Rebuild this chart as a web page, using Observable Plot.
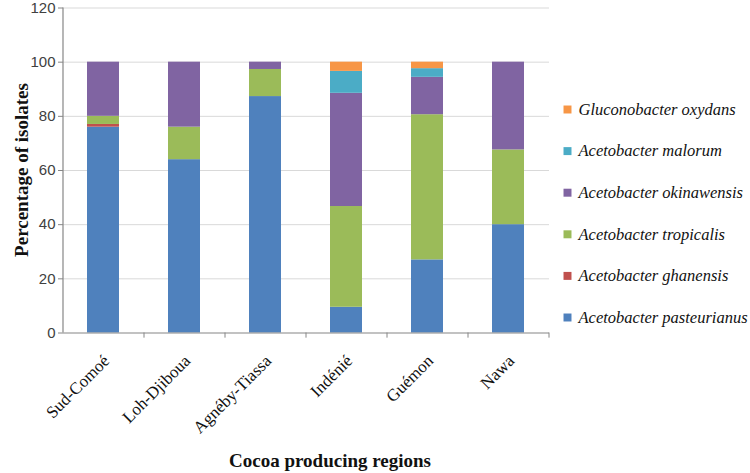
<!DOCTYPE html>
<html>
<head>
<meta charset="utf-8">
<script src="https://cdn.jsdelivr.net/npm/d3@7"></script>
<script src="https://cdn.jsdelivr.net/npm/@observablehq/plot@0.6"></script>
<style>
  html, body { margin: 0; padding: 0; background: #fff; }
  #wrap { position: relative; width: 750px; height: 473px; overflow: hidden; }
</style>
</head>
<body>
<div id="wrap"></div>
<script>
const regions = ["Sud-Comoé", "Loh-Djiboua", "Agnéby-Tiassa", "Indénié", "Guémon", "Nawa"];
const species = ["Acetobacter pasteurianus", "Acetobacter ghanensis", "Acetobacter tropicalis", "Acetobacter okinawensis", "Acetobacter malorum", "Gluconobacter oxydans"];
const colors = ["#4F81BD", "#C0504D", "#9BBB59", "#8064A2", "#4BACC6", "#F79646"];
const pasteurianus = [76, 64, 87.3, 9.5, 27, 40];
const ghanensis    = [1, 0, 0, 0, 0, 0];
const tropicalis   = [3, 12, 10, 37.2, 53.6, 27.6];
const okinawensis  = [20, 24, 2.7, 41.8, 13.8, 32.4];
const malorum      = [0, 0, 0, 8.1, 3.2, 0];
const oxydans      = [0, 0, 0, 3.4, 2.4, 0];
const yTicks = [0, 20, 40, 60, 80, 100, 120];

const seriesValues = [pasteurianus, ghanensis, tropicalis, okinawensis, malorum, oxydans];
const data = [];
species.forEach((s, si) => regions.forEach((r, ri) => data.push({region: r, species: s, value: seriesValues[si][ri]})));

const W = 750, H = 473, mL = 63, mR = 201, mT = 7.5, mB = 140.5;
const step = (W - mL - mR) / regions.length;
const serif = "Liberation Serif";

// legend rows, top to bottom
const legendOrder = species.slice().reverse();
const legendMarks = legendOrder.flatMap((s, i) => [
  Plot.dot([s], {frameAnchor: "top-right", dx: 18, dy: 101.5 + i * 41.6, symbol: "square", r: 4.5,
    fill: colors[species.indexOf(s)], stroke: "none"}),
  Plot.text([s], {frameAnchor: "top-right", dx: 29, dy: 101.5 + i * 41.6, text: d => d, textAnchor: "start",
    lineAnchor: "middle", fontFamily: serif, fontStyle: "italic", fontSize: 16.5, fill: "#111"})
]);

const chart = Plot.plot({
  width: W, height: H,
  marginLeft: mL, marginRight: mR, marginTop: mT, marginBottom: mB,
  style: {background: "#fff", overflow: "visible"},
  x: {domain: regions, paddingInner: 0.6, paddingOuter: 0.3, axis: null},
  y: {domain: [0, 120], axis: null},
  color: {domain: species, range: colors},
  marks: [
    Plot.ruleY(yTicks.filter(d => d > 0), {stroke: "#d9d9d9", strokeWidth: 1}),
    Plot.barY(data, Plot.stackY({x: "region", y: "value", fill: "species", order: species})),
    Plot.ruleX([regions[0]], {x: d => d, dx: -step / 2, stroke: "#868686", strokeWidth: 1.2}),
    Plot.ruleY([0], {stroke: "#868686", strokeWidth: 1.2}),
    Plot.ruleX(regions, {x: d => d, dx: step / 2, y1: 0, y2: -1.9, stroke: "#868686", clip: false}),
    Plot.axisY({ticks: yTicks, tickSize: 5, tickPadding: 3, stroke: "#868686",
      fontFamily: "'Liberation Sans', Arial, sans-serif", fontSize: 15, fill: "#404040", label: null}),
    Plot.text(regions, {x: d => d, y: 0, dy: 25, dx: 3, rotate: -45, textAnchor: "end",
      fontFamily: serif, fontSize: 17, fill: "#111"}),
    ...legendMarks
  ]
});

const svg = d3.select(chart);
svg.append("text")
  .attr("transform", "translate(28,170) rotate(-90)")
  .attr("text-anchor", "middle")
  .attr("font-family", serif)
  .attr("font-weight", "bold").attr("font-size", 19).attr("fill", "#111")
  .text("Percentage of isolates");
svg.append("text")
  .attr("x", 330).attr("y", 467)
  .attr("text-anchor", "middle")
  .attr("font-family", serif)
  .attr("font-weight", "bold").attr("font-size", 19).attr("fill", "#111")
  .text("Cocoa producing regions");

document.getElementById("wrap").appendChild(chart);
</script>
</body>
</html>
